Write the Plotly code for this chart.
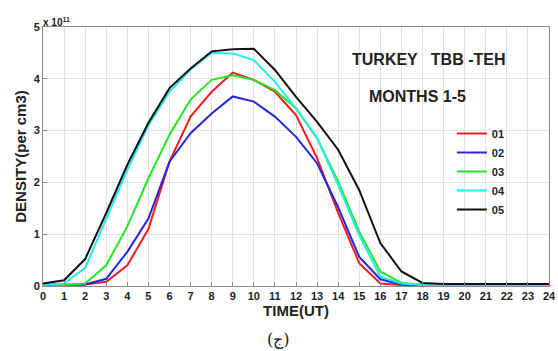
import plotly.graph_objects as go

hours = list(range(25))
months = ["01", "02", "03", "04", "05"]
colors = ["#ee1c1c", "#2626dd", "#26e426", "#22eeee", "#111111"]

# density in units of 1e11 per cm3
d01 = [0.02, 0.02, 0.03, 0.08, 0.40, 1.10, 2.40, 3.27, 3.75, 4.12, 3.98, 3.75, 3.30, 2.47, 1.41, 0.44, 0.05, 0.02, 0.02, 0.02, 0.02, 0.02, 0.02, 0.02, 0.02]
d02 = [0.02, 0.02, 0.03, 0.14, 0.66, 1.30, 2.40, 2.95, 3.33, 3.66, 3.56, 3.27, 2.88, 2.37, 1.52, 0.56, 0.13, 0.03, 0.02, 0.02, 0.02, 0.02, 0.02, 0.02, 0.02]
d03 = [0.02, 0.02, 0.05, 0.40, 1.15, 2.08, 2.92, 3.60, 3.98, 4.07, 3.98, 3.78, 3.43, 2.85, 2.02, 1.05, 0.28, 0.06, 0.03, 0.02, 0.02, 0.02, 0.02, 0.02, 0.02]
d04 = [0.03, 0.05, 0.35, 1.30, 2.24, 3.10, 3.75, 4.18, 4.50, 4.49, 4.36, 3.94, 3.43, 2.86, 1.95, 0.98, 0.18, 0.05, 0.02, 0.02, 0.02, 0.02, 0.02, 0.02, 0.02]
d05 = [0.05, 0.11, 0.52, 1.41, 2.34, 3.15, 3.82, 4.20, 4.53, 4.57, 4.58, 4.17, 3.65, 3.17, 2.63, 1.85, 0.83, 0.28, 0.06, 0.04, 0.04, 0.04, 0.04, 0.04, 0.04]
series = [d01, d02, d03, d04, d05]

x_ticks = list(range(25))
y_ticks = [0, 1, 2, 3, 4, 5]

fig = go.Figure()
for name, col, vals in zip(months, colors, series):
    fig.add_trace(go.Scatter(x=hours, y=vals, mode="lines", name=name,
                             line=dict(color=col, width=2)))

FONT = "Liberation Sans, Arial, sans-serif"
tickfont = dict(size=11, family=FONT, color="#222", weight="bold")
fig.update_layout(
    width=558, height=351,
    margin=dict(l=43, r=9, t=27, b=65),
    paper_bgcolor="white", plot_bgcolor="white",
    font=dict(family=FONT, color="#222", size=10),
    showlegend=True,
    legend=dict(x=0.808, y=0.645, xanchor="left", yanchor="top",
                bgcolor="rgba(0,0,0,0)", borderwidth=0,
                font=dict(size=11, family=FONT, color="#222", weight="bold"),
                itemwidth=30, tracegroupgap=0),
    xaxis=dict(range=[0, 24], tickvals=x_ticks, ticktext=[str(v) for v in x_ticks],
               showgrid=True, gridcolor="#e2e2e2", gridwidth=1,
               showline=True, linecolor="#8a8a8a", linewidth=1, mirror=True,
               ticks="inside", ticklen=4, tickcolor="#8a8a8a",
               tickfont=tickfont, automargin=False,
               title=dict(text="TIME(UT)", font=dict(size=15, color="#222", weight="bold"), standoff=1),
               zeroline=False),
    yaxis=dict(range=[0, 5], tickvals=y_ticks, ticktext=[str(v) for v in y_ticks],
               showgrid=True, gridcolor="#e2e2e2", gridwidth=1,
               showline=True, linecolor="#8a8a8a", linewidth=1, mirror=True,
               ticks="inside", ticklen=4, tickcolor="#8a8a8a",
               tickfont=tickfont, automargin=False,
               title=dict(text="DENSITY(per cm3)", font=dict(size=15, color="#222", weight="bold"), standoff=3),
               zeroline=False),
)

fig.add_annotation(x=0, y=1, xref="paper", yref="paper", xanchor="left", yanchor="bottom",
                   text="<b>x 10<sup>11</sup></b>", showarrow=False,
                   font=dict(size=10, color="#222"), xshift=-2, yshift=-3)
fig.add_annotation(x=0.761, y=0.873, xref="paper", yref="paper", xanchor="center", yanchor="middle",
                   text="<b>TURKEY   TBB -TEH</b>", showarrow=False,
                   font=dict(size=16, color="#222"))
fig.add_annotation(x=0.741, y=0.73, xref="paper", yref="paper", xanchor="center", yanchor="middle",
                   text="<b>MONTHS 1-5</b>", showarrow=False,
                   font=dict(size=16, color="#222"))
fig.add_annotation(x=0.465, y=0, xref="paper", yref="paper", xanchor="center", yanchor="middle",
                   text="(ج)", showarrow=False, yshift=-53,
                   font=dict(size=16, color="#222", family="DejaVu Serif"))

fig.write_html("out.html", post_script="document.body.style.margin='0';",
               config={"displayModeBar": False})
